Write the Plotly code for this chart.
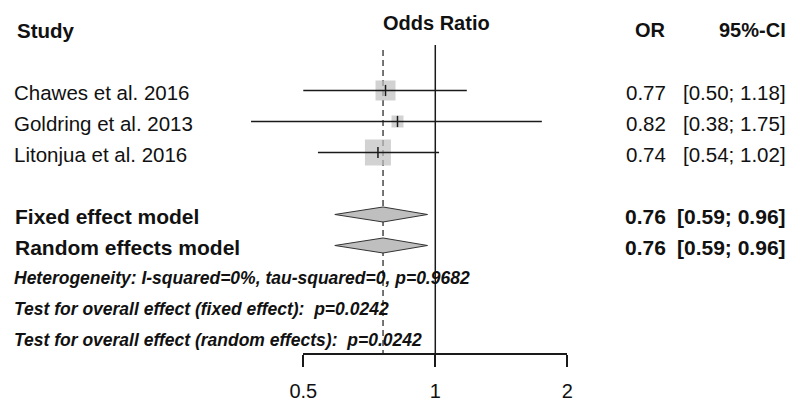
import math
import plotly.graph_objects as go

# ---------------- data ----------------
studies = ["Chawes et al. 2016", "Goldring et al. 2013", "Litonjua et al. 2016"]
or_est = [0.77, 0.82, 0.74]
ci_low = [0.50, 0.38, 0.54]
ci_high = [1.18, 1.75, 1.02]

pooled_labels = ["Fixed effect model", "Random effects model"]
pooled_est = [0.76, 0.76]
pooled_low = [0.59, 0.59]
pooled_high = [0.96, 0.96]

stats_lines = [
    "Heterogeneity: I-squared=0%, tau-squared=0, p=0.9682",
    "Test for overall effect (fixed effect):  p=0.0242",
    "Test for overall effect (random effects):  p=0.0242",
]
tick_vals = [0.5, 1, 2]
tick_text = ["0.5", "1", "2"]
headers = ["Study", "Odds Ratio", "OR", "95%-CI"]

# ---------------- layout / style ----------------
W, H = 791, 403
study_rows = [2, 3, 4]
pooled_rows = [6, 7]
stats_rows = [8, 9, 10]
axis_row = 10.5
y_range = [12.081, -0.919]
x_range = [-0.9927, 0.8112]          # log10 units across full width
box_sizes = [20, 12, 26]
diamond_half = 0.242
FONT = "Liberation Sans, Arial, sans-serif"
TXT = "#111111"
LINE = "#1a1a1a"
GRAY = "#bfbfbf"

fig = go.Figure()

# reference lines
fig.add_trace(go.Scatter(x=[1, 1], y=[0.53, axis_row], mode="lines",
                         line=dict(color=LINE, width=1.5), hoverinfo="skip", showlegend=False))
fig.add_trace(go.Scatter(x=[pooled_est[0], pooled_est[0]], y=[0.69, axis_row], mode="lines",
                         line=dict(color=LINE, width=1.2, dash="6px,4px"),
                         hoverinfo="skip", showlegend=False))

# study boxes
fig.add_trace(go.Scatter(x=or_est, y=study_rows, mode="markers",
                         marker=dict(symbol="square", size=box_sizes, color=GRAY,
                                     line=dict(width=0)),
                         hoverinfo="skip", showlegend=False))
# CI lines
for lo, hi, r in zip(ci_low, ci_high, study_rows):
    fig.add_trace(go.Scatter(x=[lo, hi], y=[r, r], mode="lines",
                             line=dict(color=LINE, width=1.5), hoverinfo="skip", showlegend=False))
# estimate ticks
fig.add_trace(go.Scatter(x=or_est, y=study_rows, mode="markers",
                         marker=dict(symbol="line-ns", size=8,
                                     line=dict(color=LINE, width=1.5)),
                         hoverinfo="skip", showlegend=False))

# diamonds
for e, lo, hi, r in zip(pooled_est, pooled_low, pooled_high, pooled_rows):
    fig.add_trace(go.Scatter(x=[lo, e, hi, e, lo],
                             y=[r, r - diamond_half, r, r + diamond_half, r],
                             mode="lines", fill="toself", fillcolor=GRAY,
                             line=dict(color="#333333", width=1),
                             hoverinfo="skip", showlegend=False))

# dummy trace to create the visible axis subplot
fig.add_trace(go.Scatter(x=[1], y=[axis_row], xaxis="x2", yaxis="y", mode="markers",
                         marker=dict(opacity=0), hoverinfo="skip", showlegend=False))

ann = []
def px(p):
    return p / W

def add_text(xp, row, text, anchor, size):
    ann.append(dict(x=px(xp), y=row, xref="paper", yref="y", text=text,
                    xanchor=anchor, yanchor="middle", showarrow=False,
                    font=dict(family=FONT, size=size, color=TXT)))

# headers
add_text(15, 0.05, f"<b>{headers[0]}</b>", "left", 20.5)
add_text(381, -0.18, f"<b>{headers[1]}</b>", "left", 20)
add_text(668, 0.05, f"<b>{headers[2]}</b>", "right", 20)
add_text(788, 0.05, f"<b>{headers[3]}</b>", "right", 20)

# study rows
for s, e, lo, hi, r in zip(studies, or_est, ci_low, ci_high, study_rows):
    add_text(12, r + 0.05, s, "left", 20.5)
    add_text(668, r + 0.05, f"{e:.2f}", "right", 20.5)
    add_text(788, r + 0.05, f"[{lo:.2f}; {hi:.2f}]", "right", 20.5)

# pooled rows
for lab, e, lo, hi, r in zip(pooled_labels, pooled_est, pooled_low, pooled_high, pooled_rows):
    add_text(13, r + 0.05, f"<b>{lab}</b>", "left", 21)
    add_text(668, r + 0.05, f"<b>{e:.2f}</b>", "right", 21)
    add_text(788, r + 0.05, f"<b>[{lo:.2f}; {hi:.2f}]</b>", "right", 21)

# stats lines
for t, r in zip(stats_lines, stats_rows):
    add_text(12, r + 0.05, f"<b><i>{t}</i></b>", "left", 17.5)

axis_paper = (y_range[0] - axis_row) / (y_range[0] - y_range[1])

fig.update_layout(
    width=W, height=H,
    margin=dict(l=0, r=0, t=0, b=0, pad=0, autoexpand=False),
    paper_bgcolor="white", plot_bgcolor="rgba(0,0,0,0)",
    showlegend=False,
    annotations=ann,
    xaxis=dict(type="log", range=x_range, visible=False, fixedrange=True),
    yaxis=dict(range=y_range, visible=False, fixedrange=True),
    xaxis2=dict(type="log", domain=[303.3 / W, 567.3 / W],
                range=[math.log10(tick_vals[0]), math.log10(tick_vals[-1])],
                anchor="free", position=axis_paper,
                showline=True, linecolor=LINE, linewidth=1.5,
                ticks="outside", ticklen=12, tickwidth=1.5, tickcolor=LINE,
                tickvals=tick_vals, ticktext=tick_text,
                tickfont=dict(family=FONT, size=20, color=TXT),
                ticklabelstandoff=7,
                showgrid=False, zeroline=False, fixedrange=True),
)

fig.write_html("out.html")
